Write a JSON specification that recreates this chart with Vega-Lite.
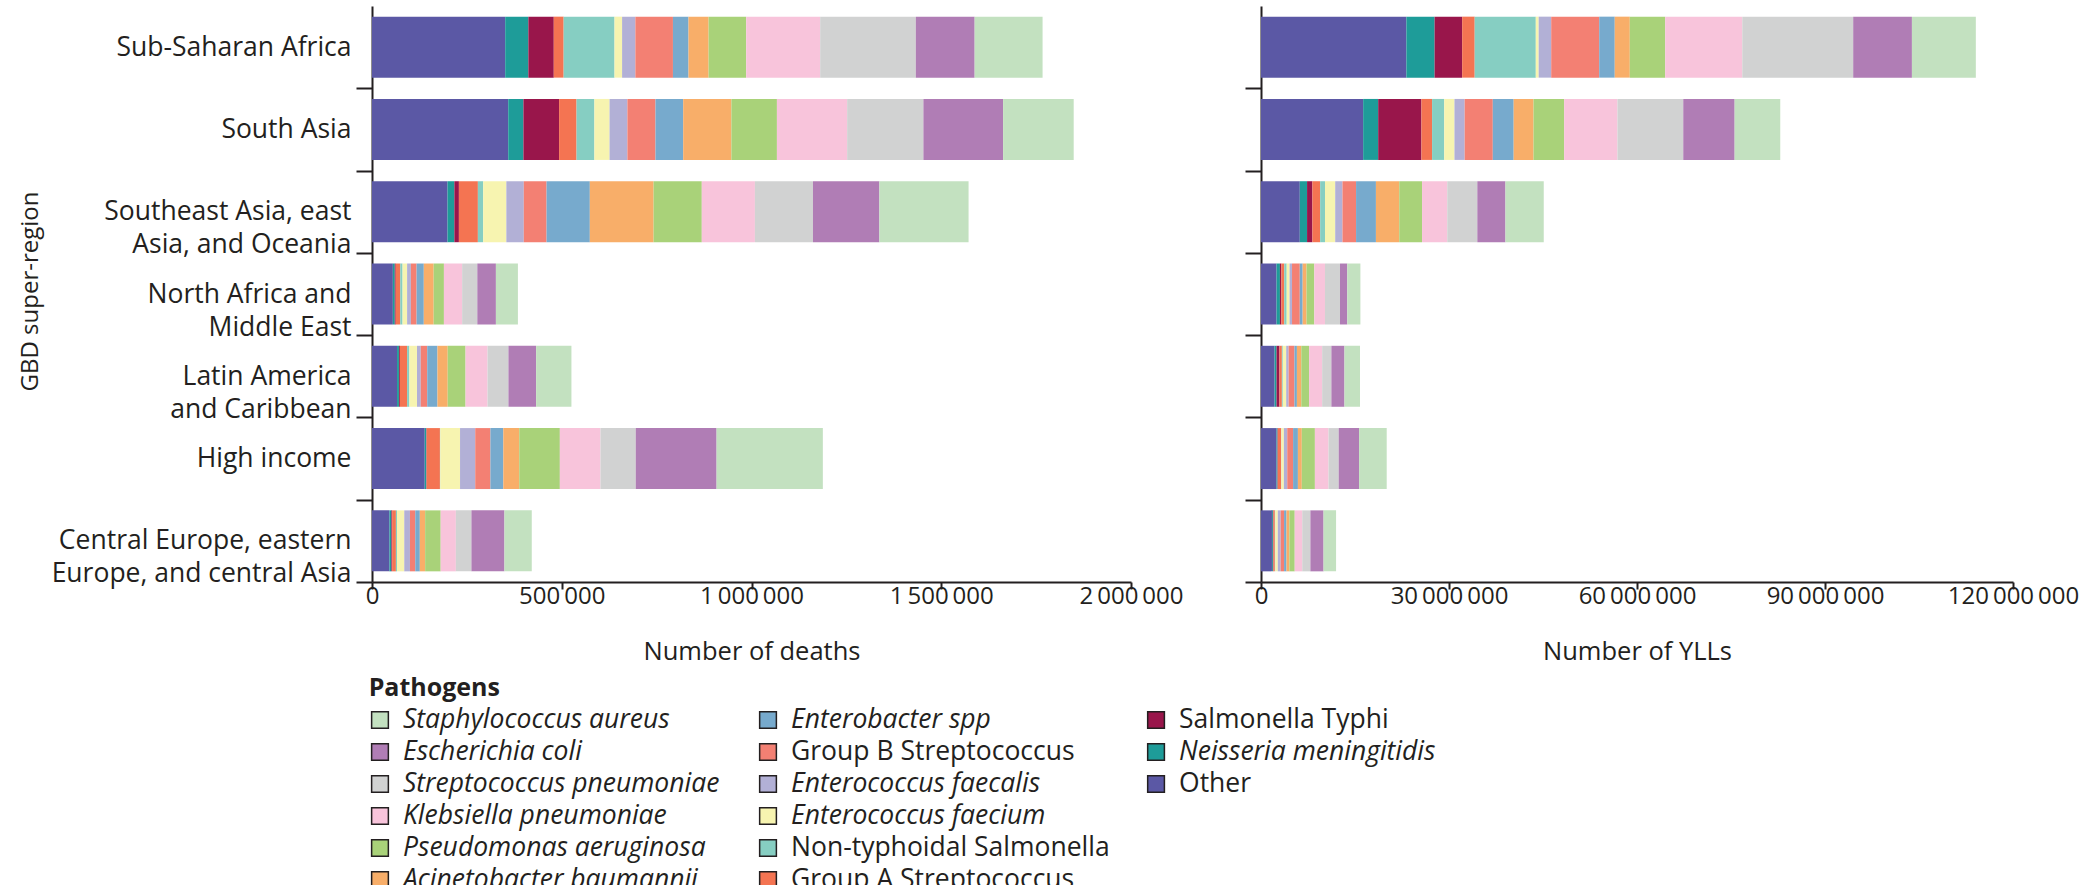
{
  "$schema": "https://vega.github.io/schema/vega-lite/v6.json",
  "padding": {"left": 18, "top": 6, "right": 5, "bottom": 0},
  "background": "white",
  "config": {"view": {"stroke": null}, "font": "Open Sans"},
  "datasets": {
    "main": [
      {"region": "Sub-Saharan Africa", "pathogen": "Other", "deaths": 351000, "ylls": 23200000},
      {"region": "Sub-Saharan Africa", "pathogen": "Neisseria meningitidis", "deaths": 61000, "ylls": 4500000},
      {"region": "Sub-Saharan Africa", "pathogen": "Salmonella Typhi", "deaths": 67000, "ylls": 4400000},
      {"region": "Sub-Saharan Africa", "pathogen": "Group A Streptococcus", "deaths": 26000, "ylls": 2000000},
      {"region": "Sub-Saharan Africa", "pathogen": "Non-typhoidal Salmonella", "deaths": 134000, "ylls": 9750000},
      {"region": "Sub-Saharan Africa", "pathogen": "Enterococcus faecium", "deaths": 20000, "ylls": 460000},
      {"region": "Sub-Saharan Africa", "pathogen": "Enterococcus faecalis", "deaths": 35000, "ylls": 2000000},
      {"region": "Sub-Saharan Africa", "pathogen": "Group B Streptococcus", "deaths": 99000, "ylls": 7660000},
      {"region": "Sub-Saharan Africa", "pathogen": "Enterobacter spp", "deaths": 41000, "ylls": 2480000},
      {"region": "Sub-Saharan Africa", "pathogen": "Acinetobacter baumannii", "deaths": 53000, "ylls": 2400000},
      {"region": "Sub-Saharan Africa", "pathogen": "Pseudomonas aeruginosa", "deaths": 99000, "ylls": 5650000},
      {"region": "Sub-Saharan Africa", "pathogen": "Klebsiella pneumoniae", "deaths": 195000, "ylls": 12300000},
      {"region": "Sub-Saharan Africa", "pathogen": "Streptococcus pneumoniae", "deaths": 252000, "ylls": 17700000},
      {"region": "Sub-Saharan Africa", "pathogen": "Escherichia coli", "deaths": 155000, "ylls": 9370000},
      {"region": "Sub-Saharan Africa", "pathogen": "Staphylococcus aureus", "deaths": 179000, "ylls": 10200000},

      {"region": "South Asia", "pathogen": "Other", "deaths": 359000, "ylls": 16300000},
      {"region": "South Asia", "pathogen": "Neisseria meningitidis", "deaths": 40000, "ylls": 2400000},
      {"region": "South Asia", "pathogen": "Salmonella Typhi", "deaths": 94000, "ylls": 6900000},
      {"region": "South Asia", "pathogen": "Group A Streptococcus", "deaths": 46000, "ylls": 1700000},
      {"region": "South Asia", "pathogen": "Non-typhoidal Salmonella", "deaths": 47000, "ylls": 1940000},
      {"region": "South Asia", "pathogen": "Enterococcus faecium", "deaths": 40000, "ylls": 1630000},
      {"region": "South Asia", "pathogen": "Enterococcus faecalis", "deaths": 47000, "ylls": 1630000},
      {"region": "South Asia", "pathogen": "Group B Streptococcus", "deaths": 74000, "ylls": 4490000},
      {"region": "South Asia", "pathogen": "Enterobacter spp", "deaths": 73000, "ylls": 3330000},
      {"region": "South Asia", "pathogen": "Acinetobacter baumannii", "deaths": 127000, "ylls": 3170000},
      {"region": "South Asia", "pathogen": "Pseudomonas aeruginosa", "deaths": 120000, "ylls": 4880000},
      {"region": "South Asia", "pathogen": "Klebsiella pneumoniae", "deaths": 185000, "ylls": 8510000},
      {"region": "South Asia", "pathogen": "Streptococcus pneumoniae", "deaths": 201000, "ylls": 10500000},
      {"region": "South Asia", "pathogen": "Escherichia coli", "deaths": 210000, "ylls": 8200000},
      {"region": "South Asia", "pathogen": "Staphylococcus aureus", "deaths": 186000, "ylls": 7280000},

      {"region": "Southeast Asia, east Asia, and Oceania", "pathogen": "Other", "deaths": 199000, "ylls": 6190000},
      {"region": "Southeast Asia, east Asia, and Oceania", "pathogen": "Neisseria meningitidis", "deaths": 18000, "ylls": 1160000},
      {"region": "Southeast Asia, east Asia, and Oceania", "pathogen": "Salmonella Typhi", "deaths": 12000, "ylls": 850000},
      {"region": "Southeast Asia, east Asia, and Oceania", "pathogen": "Group A Streptococcus", "deaths": 50000, "ylls": 1240000},
      {"region": "Southeast Asia, east Asia, and Oceania", "pathogen": "Non-typhoidal Salmonella", "deaths": 14000, "ylls": 770000},
      {"region": "Southeast Asia, east Asia, and Oceania", "pathogen": "Enterococcus faecium", "deaths": 61000, "ylls": 1630000},
      {"region": "Southeast Asia, east Asia, and Oceania", "pathogen": "Enterococcus faecalis", "deaths": 46000, "ylls": 1160000},
      {"region": "Southeast Asia, east Asia, and Oceania", "pathogen": "Group B Streptococcus", "deaths": 60000, "ylls": 2170000},
      {"region": "Southeast Asia, east Asia, and Oceania", "pathogen": "Enterobacter spp", "deaths": 114000, "ylls": 3170000},
      {"region": "Southeast Asia, east Asia, and Oceania", "pathogen": "Acinetobacter baumannii", "deaths": 168000, "ylls": 3720000},
      {"region": "Southeast Asia, east Asia, and Oceania", "pathogen": "Pseudomonas aeruginosa", "deaths": 127000, "ylls": 3640000},
      {"region": "Southeast Asia, east Asia, and Oceania", "pathogen": "Klebsiella pneumoniae", "deaths": 140000, "ylls": 4020000},
      {"region": "Southeast Asia, east Asia, and Oceania", "pathogen": "Streptococcus pneumoniae", "deaths": 153000, "ylls": 4800000},
      {"region": "Southeast Asia, east Asia, and Oceania", "pathogen": "Escherichia coli", "deaths": 175000, "ylls": 4490000},
      {"region": "Southeast Asia, east Asia, and Oceania", "pathogen": "Staphylococcus aureus", "deaths": 235000, "ylls": 6110000},

      {"region": "North Africa and Middle East", "pathogen": "Other", "deaths": 55000, "ylls": 2480000},
      {"region": "North Africa and Middle East", "pathogen": "Neisseria meningitidis", "deaths": 5000, "ylls": 540000},
      {"region": "North Africa and Middle East", "pathogen": "Salmonella Typhi", "deaths": 2500, "ylls": 230000},
      {"region": "North Africa and Middle East", "pathogen": "Group A Streptococcus", "deaths": 12000, "ylls": 460000},
      {"region": "North Africa and Middle East", "pathogen": "Non-typhoidal Salmonella", "deaths": 6000, "ylls": 390000},
      {"region": "North Africa and Middle East", "pathogen": "Enterococcus faecium", "deaths": 12000, "ylls": 460000},
      {"region": "North Africa and Middle East", "pathogen": "Enterococcus faecalis", "deaths": 10000, "ylls": 390000},
      {"region": "North Africa and Middle East", "pathogen": "Group B Streptococcus", "deaths": 15000, "ylls": 1240000},
      {"region": "North Africa and Middle East", "pathogen": "Enterobacter spp", "deaths": 19000, "ylls": 460000},
      {"region": "North Africa and Middle East", "pathogen": "Acinetobacter baumannii", "deaths": 26000, "ylls": 620000},
      {"region": "North Africa and Middle East", "pathogen": "Pseudomonas aeruginosa", "deaths": 27000, "ylls": 1240000},
      {"region": "North Africa and Middle East", "pathogen": "Klebsiella pneumoniae", "deaths": 48000, "ylls": 1700000},
      {"region": "North Africa and Middle East", "pathogen": "Streptococcus pneumoniae", "deaths": 40000, "ylls": 2400000},
      {"region": "North Africa and Middle East", "pathogen": "Escherichia coli", "deaths": 49000, "ylls": 1160000},
      {"region": "North Africa and Middle East", "pathogen": "Staphylococcus aureus", "deaths": 58000, "ylls": 2090000},

      {"region": "Latin America and Caribbean", "pathogen": "Other", "deaths": 66000, "ylls": 2170000},
      {"region": "Latin America and Caribbean", "pathogen": "Neisseria meningitidis", "deaths": 5000, "ylls": 310000},
      {"region": "Latin America and Caribbean", "pathogen": "Salmonella Typhi", "deaths": 2500, "ylls": 460000},
      {"region": "Latin America and Caribbean", "pathogen": "Group A Streptococcus", "deaths": 19000, "ylls": 390000},
      {"region": "Latin America and Caribbean", "pathogen": "Non-typhoidal Salmonella", "deaths": 6000, "ylls": 150000},
      {"region": "Latin America and Caribbean", "pathogen": "Enterococcus faecium", "deaths": 20000, "ylls": 540000},
      {"region": "Latin America and Caribbean", "pathogen": "Enterococcus faecalis", "deaths": 10000, "ylls": 390000},
      {"region": "Latin America and Caribbean", "pathogen": "Group B Streptococcus", "deaths": 17000, "ylls": 930000},
      {"region": "Latin America and Caribbean", "pathogen": "Enterobacter spp", "deaths": 27000, "ylls": 390000},
      {"region": "Latin America and Caribbean", "pathogen": "Acinetobacter baumannii", "deaths": 27000, "ylls": 700000},
      {"region": "Latin America and Caribbean", "pathogen": "Pseudomonas aeruginosa", "deaths": 47000, "ylls": 1240000},
      {"region": "Latin America and Caribbean", "pathogen": "Klebsiella pneumoniae", "deaths": 58000, "ylls": 2090000},
      {"region": "Latin America and Caribbean", "pathogen": "Streptococcus pneumoniae", "deaths": 55000, "ylls": 1470000},
      {"region": "Latin America and Caribbean", "pathogen": "Escherichia coli", "deaths": 73000, "ylls": 2090000},
      {"region": "Latin America and Caribbean", "pathogen": "Staphylococcus aureus", "deaths": 93000, "ylls": 2480000},

      {"region": "High income", "pathogen": "Other", "deaths": 139000, "ylls": 2480000},
      {"region": "High income", "pathogen": "Neisseria meningitidis", "deaths": 4000, "ylls": 150000},
      {"region": "High income", "pathogen": "Salmonella Typhi", "deaths": 1000, "ylls": 50000},
      {"region": "High income", "pathogen": "Group A Streptococcus", "deaths": 35000, "ylls": 540000},
      {"region": "High income", "pathogen": "Non-typhoidal Salmonella", "deaths": 1000, "ylls": 40000},
      {"region": "High income", "pathogen": "Enterococcus faecium", "deaths": 52000, "ylls": 390000},
      {"region": "High income", "pathogen": "Enterococcus faecalis", "deaths": 40000, "ylls": 540000},
      {"region": "High income", "pathogen": "Group B Streptococcus", "deaths": 40000, "ylls": 930000},
      {"region": "High income", "pathogen": "Enterobacter spp", "deaths": 34000, "ylls": 770000},
      {"region": "High income", "pathogen": "Acinetobacter baumannii", "deaths": 42000, "ylls": 620000},
      {"region": "High income", "pathogen": "Pseudomonas aeruginosa", "deaths": 107000, "ylls": 2090000},
      {"region": "High income", "pathogen": "Klebsiella pneumoniae", "deaths": 107000, "ylls": 2170000},
      {"region": "High income", "pathogen": "Streptococcus pneumoniae", "deaths": 93000, "ylls": 1630000},
      {"region": "High income", "pathogen": "Escherichia coli", "deaths": 213000, "ylls": 3250000},
      {"region": "High income", "pathogen": "Staphylococcus aureus", "deaths": 280000, "ylls": 4410000},

      {"region": "Central Europe, eastern Europe, and central Asia", "pathogen": "Other", "deaths": 46000, "ylls": 1750000},
      {"region": "Central Europe, eastern Europe, and central Asia", "pathogen": "Neisseria meningitidis", "deaths": 5000, "ylls": 150000},
      {"region": "Central Europe, eastern Europe, and central Asia", "pathogen": "Salmonella Typhi", "deaths": 2000, "ylls": 80000},
      {"region": "Central Europe, eastern Europe, and central Asia", "pathogen": "Group A Streptococcus", "deaths": 10000, "ylls": 230000},
      {"region": "Central Europe, eastern Europe, and central Asia", "pathogen": "Non-typhoidal Salmonella", "deaths": 3000, "ylls": 80000},
      {"region": "Central Europe, eastern Europe, and central Asia", "pathogen": "Enterococcus faecium", "deaths": 19000, "ylls": 390000},
      {"region": "Central Europe, eastern Europe, and central Asia", "pathogen": "Enterococcus faecalis", "deaths": 15000, "ylls": 460000},
      {"region": "Central Europe, eastern Europe, and central Asia", "pathogen": "Group B Streptococcus", "deaths": 14000, "ylls": 540000},
      {"region": "Central Europe, eastern Europe, and central Asia", "pathogen": "Enterobacter spp", "deaths": 12000, "ylls": 390000},
      {"region": "Central Europe, eastern Europe, and central Asia", "pathogen": "Acinetobacter baumannii", "deaths": 14000, "ylls": 460000},
      {"region": "Central Europe, eastern Europe, and central Asia", "pathogen": "Pseudomonas aeruginosa", "deaths": 41000, "ylls": 850000},
      {"region": "Central Europe, eastern Europe, and central Asia", "pathogen": "Klebsiella pneumoniae", "deaths": 40000, "ylls": 1200000},
      {"region": "Central Europe, eastern Europe, and central Asia", "pathogen": "Streptococcus pneumoniae", "deaths": 41000, "ylls": 1300000},
      {"region": "Central Europe, eastern Europe, and central Asia", "pathogen": "Escherichia coli", "deaths": 87000, "ylls": 2100000},
      {"region": "Central Europe, eastern Europe, and central Asia", "pathogen": "Staphylococcus aureus", "deaths": 72000, "ylls": 2000000}
    ]
  },
  "spacing": 11,
  "resolve": {"scale": {"color": "shared"}},
  "vconcat": [
    {
      "bounds": "flush",
      "spacing": 130,
      "hconcat": [
        {
          "width": 759,
          "height": 576,
          "data": {"name": "main"},
          "transform": [{"calculate": "indexof(['Other','Neisseria meningitidis','Salmonella Typhi','Group A Streptococcus','Non-typhoidal Salmonella','Enterococcus faecium','Enterococcus faecalis','Group B Streptococcus','Enterobacter spp','Acinetobacter baumannii','Pseudomonas aeruginosa','Klebsiella pneumoniae','Streptococcus pneumoniae','Escherichia coli','Staphylococcus aureus'], datum.pathogen)", "as": "rank"}],
          "mark": {"type": "bar"},
          "encoding": {
            "y": {
              "field": "region", "type": "nominal",
              "sort": ["Sub-Saharan Africa", "South Asia", "Southeast Asia, east Asia, and Oceania", "North Africa and Middle East", "Latin America and Caribbean", "High income", "Central Europe, eastern Europe, and central Asia"],
              "scale": {"paddingInner": 0.259, "paddingOuter": 0.1295},
              "axis": {
                "title": "GBD super-region", "titleX": -342, "titleY": 285, "titleAngle": 270, "titleBaseline": "middle", "titleAlign": "center",
                "titleFont": "Open Sans", "titleFontSize": 24, "titleFontWeight": "normal", "titleColor": "#231f20",
                "labelFont": "Open Sans", "labelFontSize": 26.5, "labelLineHeight": 33, "labelColor": "#231f20", "labelLimit": 500,
                "labelExpr": "datum.label == 'Southeast Asia, east Asia, and Oceania' ? ['Southeast Asia, east', 'Asia, and Oceania'] : datum.label == 'North Africa and Middle East' ? ['North Africa and', 'Middle East'] : datum.label == 'Latin America and Caribbean' ? ['Latin America', 'and Caribbean'] : datum.label == 'Central Europe, eastern Europe, and central Asia' ? ['Central Europe, eastern', 'Europe, and central Asia'] : datum.label",
                "labelPadding": 5, "tickSize": 16, "bandPosition": 1, "tickOffset": 10.65, "labelOffset": -10.65,
                "tickColor": "#231f20", "tickWidth": 2, "domainColor": "#231f20", "domainWidth": 2
              }
            },
            "x": {
              "field": "deaths", "type": "quantitative", "stack": "zero",
              "scale": {"domain": [0, 2000000], "nice": false},
              "axis": {
                "title": "Number of deaths", "values": [0, 500000, 1000000, 1500000, 2000000], "grid": false,
                "labelExpr": "replace(format(datum.value, ','), /,/g, '\u2009')",
                "tickSize": 7, "tickColor": "#231f20", "tickWidth": 2, "domainColor": "#231f20", "domainWidth": 2,
                "labelFont": "Open Sans", "labelFontSize": 24, "labelColor": "#231f20", "labelPadding": -5, "labelFlush": false,
                "titleFont": "Open Sans", "titleFontSize": 25.5, "titleFontWeight": "normal", "titleColor": "#231f20", "titlePadding": 31
              }
            },
            "color": {
              "field": "pathogen", "type": "nominal", "legend": null,
              "scale": {
                "domain": ["Other", "Neisseria meningitidis", "Salmonella Typhi", "Group A Streptococcus", "Non-typhoidal Salmonella", "Enterococcus faecium", "Enterococcus faecalis", "Group B Streptococcus", "Enterobacter spp", "Acinetobacter baumannii", "Pseudomonas aeruginosa", "Klebsiella pneumoniae", "Streptococcus pneumoniae", "Escherichia coli", "Staphylococcus aureus"],
                "range": ["#5b58a5", "#1e9c99", "#99164b", "#f47452", "#86cec2", "#f7f4b0", "#b2b0d6", "#f38073", "#77aacd", "#f8ae69", "#a9d279", "#f8c4db", "#d1d2d2", "#b07db5", "#c3e1c0"]
              }
            },
            "order": {"field": "rank", "type": "quantitative"}
          }
        },
        {
          "width": 752,
          "height": 576,
          "data": {"name": "main"},
          "transform": [{"calculate": "indexof(['Other','Neisseria meningitidis','Salmonella Typhi','Group A Streptococcus','Non-typhoidal Salmonella','Enterococcus faecium','Enterococcus faecalis','Group B Streptococcus','Enterobacter spp','Acinetobacter baumannii','Pseudomonas aeruginosa','Klebsiella pneumoniae','Streptococcus pneumoniae','Escherichia coli','Staphylococcus aureus'], datum.pathogen)", "as": "rank"}],
          "mark": {"type": "bar"},
          "encoding": {
            "y": {
              "field": "region", "type": "nominal",
              "sort": ["Sub-Saharan Africa", "South Asia", "Southeast Asia, east Asia, and Oceania", "North Africa and Middle East", "Latin America and Caribbean", "High income", "Central Europe, eastern Europe, and central Asia"],
              "scale": {"paddingInner": 0.259, "paddingOuter": 0.1295},
              "axis": {
                "title": null, "labels": false,
                "tickSize": 16, "bandPosition": 1, "tickOffset": 10.65,
                "tickColor": "#231f20", "tickWidth": 2, "domainColor": "#231f20", "domainWidth": 2
              }
            },
            "x": {
              "field": "ylls", "type": "quantitative", "stack": "zero",
              "scale": {"domain": [0, 120000000], "nice": false},
              "axis": {
                "title": "Number of YLLs", "values": [0, 30000000, 60000000, 90000000, 120000000], "grid": false,
                "labelExpr": "replace(format(datum.value, ','), /,/g, '\u2009')",
                "tickSize": 7, "tickColor": "#231f20", "tickWidth": 2, "domainColor": "#231f20", "domainWidth": 2,
                "labelFont": "Open Sans", "labelFontSize": 24, "labelColor": "#231f20", "labelPadding": -5, "labelFlush": false,
                "titleFont": "Open Sans", "titleFontSize": 25.5, "titleFontWeight": "normal", "titleColor": "#231f20", "titlePadding": 31
              }
            },
            "color": {
              "field": "pathogen", "type": "nominal", "legend": null,
              "scale": {
                "domain": ["Other", "Neisseria meningitidis", "Salmonella Typhi", "Group A Streptococcus", "Non-typhoidal Salmonella", "Enterococcus faecium", "Enterococcus faecalis", "Group B Streptococcus", "Enterobacter spp", "Acinetobacter baumannii", "Pseudomonas aeruginosa", "Klebsiella pneumoniae", "Streptococcus pneumoniae", "Escherichia coli", "Staphylococcus aureus"],
                "range": ["#5b58a5", "#1e9c99", "#99164b", "#f47452", "#86cec2", "#f7f4b0", "#b2b0d6", "#f38073", "#77aacd", "#f8ae69", "#a9d279", "#f8c4db", "#d1d2d2", "#b07db5", "#c3e1c0"]
              }
            },
            "order": {"field": "rank", "type": "quantitative"}
          }
        }
      ]
    },
    {
      "width": 1200,
      "height": 185,
      "title": {"text": "Pathogens", "anchor": "start", "fontSize": 25, "fontWeight": "bold", "font": "Open Sans", "color": "#231f20", "offset": 2},
      "data": {"name": "main"},
      "transform": [
        {"aggregate": [{"op": "count", "as": "n"}], "groupby": ["pathogen"]},
        {"calculate": "14 - indexof(['Other','Neisseria meningitidis','Salmonella Typhi','Group A Streptococcus','Non-typhoidal Salmonella','Enterococcus faecium','Enterococcus faecalis','Group B Streptococcus','Enterobacter spp','Acinetobacter baumannii','Pseudomonas aeruginosa','Klebsiella pneumoniae','Streptococcus pneumoniae','Escherichia coli','Staphylococcus aureus'], datum.pathogen)", "as": "li"},
        {"calculate": "floor(datum.li / 6)", "as": "col"},
        {"calculate": "datum.li % 6", "as": "row"},
        {"calculate": "indexof(['Other','Group B Streptococcus','Non-typhoidal Salmonella','Group A Streptococcus','Salmonella Typhi'], datum.pathogen) < 0", "as": "italic"}
      ],
      "encoding": {
        "x": {"field": "col", "type": "quantitative", "scale": {"domain": [-0.0206, 3.072], "nice": false, "zero": false}, "axis": null},
        "y": {"field": "row", "type": "quantitative", "scale": {"domain": [-0.531, 5.25], "nice": false, "zero": false, "reverse": true}, "axis": null}
      },
      "layer": [
        {
          "mark": {"type": "point", "shape": "square", "filled": true, "size": 280, "stroke": "#231f20", "strokeWidth": 1.5, "opacity": 1},
          "encoding": {
            "color": {
              "field": "pathogen", "type": "nominal", "legend": null,
              "scale": {
                "domain": ["Other", "Neisseria meningitidis", "Salmonella Typhi", "Group A Streptococcus", "Non-typhoidal Salmonella", "Enterococcus faecium", "Enterococcus faecalis", "Group B Streptococcus", "Enterobacter spp", "Acinetobacter baumannii", "Pseudomonas aeruginosa", "Klebsiella pneumoniae", "Streptococcus pneumoniae", "Escherichia coli", "Staphylococcus aureus"],
                "range": ["#5b58a5", "#1e9c99", "#99164b", "#f47452", "#86cec2", "#f7f4b0", "#b2b0d6", "#f38073", "#77aacd", "#f8ae69", "#a9d279", "#f8c4db", "#d1d2d2", "#b07db5", "#c3e1c0"]
              }
            }
          }
        },
        {
          "transform": [{"filter": "datum.italic"}],
          "mark": {"type": "text", "align": "left", "baseline": "middle", "dx": 23, "fontSize": 26.5, "fontStyle": "italic", "font": "Open Sans", "color": "#231f20"},
          "encoding": {"text": {"field": "pathogen"}}
        },
        {
          "transform": [{"filter": "!datum.italic"}],
          "mark": {"type": "text", "align": "left", "baseline": "middle", "dx": 23, "fontSize": 26.5, "fontStyle": "normal", "font": "Open Sans", "color": "#231f20"},
          "encoding": {"text": {"field": "pathogen"}}
        }
      ]
    }
  ]
}
